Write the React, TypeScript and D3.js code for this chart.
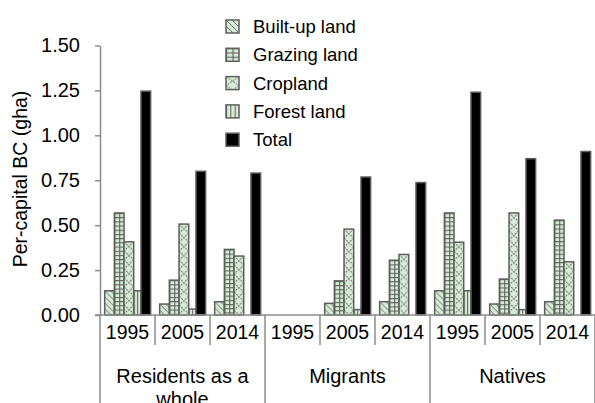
import * as d3 from "d3";
import { useEffect, useRef } from "react";

const groups = ["Residents as a whole", "Migrants", "Natives"];
const years = ["1995", "2005", "2014"];
const seriesNames = ["Built-up land", "Grazing land", "Cropland", "Forest land", "Total"];

// one value per group/year, in order: Residents 1995..2014, Migrants 1995..2014, Natives 1995..2014
const builtUp = [0.135, 0.061, 0.074, 0, 0.065, 0.074, 0.135, 0.061, 0.074];
const grazing = [0.568, 0.194, 0.365, 0, 0.19, 0.305, 0.568, 0.2, 0.528];
const cropland = [0.407, 0.506, 0.328, 0, 0.478, 0.337, 0.405, 0.568, 0.296];
const forest = [0.135, 0.033, 0, 0, 0.03, 0, 0.135, 0.03, 0];
const total = [1.246, 0.8, 0.79, 0, 0.768, 0.737, 1.24, 0.87, 0.91];
const yTicks = [0, 0.25, 0.5, 0.75, 1.0, 1.25, 1.5];

const FONT = "'Liberation Sans', Arial, sans-serif";
const FILL = "#d5edd4";
const EDGE = "#5e5e5e";
const HATCH = "#6e6e6e";
const AXIS = "#8c8c8c";

type Kind = "built" | "grazing" | "crop" | "forest";
const kinds: Kind[] = ["built", "grazing", "crop", "forest"];

function addPattern(defs: any, id: string, kind: Kind, x: number, y: number, w: number) {
  const p = defs
    .append("pattern")
    .attr("id", id)
    .attr("patternUnits", "userSpaceOnUse")
    .attr("x", x)
    .attr("y", y);
  if (kind === "built") {
    const s = 6;
    p.attr("width", s).attr("height", s);
    p.append("rect").attr("width", s).attr("height", s).attr("fill", FILL);
    p.append("path")
      .attr("d", `M0,0L${s},${s}M${-s / 2},${s / 2}L${s / 2},${s * 1.5}M${s / 2},${-s / 2}L${s * 1.5},${s / 2}`)
      .attr("stroke", HATCH)
      .attr("stroke-width", 1);
  } else if (kind === "grazing") {
    const tw = w / 2;
    const th = 4.2;
    p.attr("width", tw).attr("height", th);
    p.append("rect").attr("width", tw).attr("height", th).attr("fill", FILL);
    p.append("path")
      .attr("d", `M0,0.5H${tw}M0.5,0V${th}`)
      .attr("stroke", EDGE)
      .attr("stroke-width", 1.2);
  } else if (kind === "crop") {
    const tw = w;
    const th = 9;
    p.attr("width", tw).attr("height", th);
    p.append("rect").attr("width", tw).attr("height", th).attr("fill", FILL);
    p.append("path")
      .attr("d", `M0,0L${tw},${th}M${tw},0L0,${th}`)
      .attr("stroke", HATCH)
      .attr("stroke-width", 1)
      .attr("stroke-dasharray", "2,1");
  } else {
    const tw = w / 3;
    p.attr("width", tw).attr("height", 4);
    p.append("rect").attr("width", tw).attr("height", 4).attr("fill", FILL);
    p.append("path").attr("d", `M0.5,0V4`).attr("stroke", EDGE).attr("stroke-width", 1);
  }
}

export default function App() {
  const svgRef = useRef(null);
  const width = 595;
  const height = 403;
  const plot = { left: 100, right: 595, top: 45.5, bottom: 315 };

  useEffect(() => {
    const svg = d3.select(svgRef.current);
    svg.selectAll("*").remove();
    svg.attr("width", width).attr("height", height);
    const defs = svg.append("defs");

    const x0 = d3.scaleBand().domain(groups).range([plot.left, plot.right]);
    const x1 = d3.scaleBand().domain(years).range([0, x0.bandwidth()]);
    const y = d3.scaleLinear().domain([0, 1.5]).range([plot.bottom, plot.top]);

    const bw = x1.bandwidth();
    const barW = bw * 0.176;
    const firstOff = bw * 0.085;
    const totalOff = bw * 0.745;

    const land = [builtUp, grazing, cropland, forest];
    const cells = groups.flatMap((g, gi) =>
      years.map((yr, yi) => ({ g, yr, idx: gi * 3 + yi }))
    );

    const bars = svg.append("g");
    cells.forEach((c) => {
      const bx = (x0(c.g) || 0) + (x1(c.yr) || 0);
      land.forEach((arr, si) => {
        const v = arr[c.idx];
        if (!v) return;
        const x = bx + firstOff + si * barW;
        const id = `p-${c.idx}-${si}`;
        addPattern(defs, id, kinds[si], x, y(v), barW);
        bars
          .append("rect")
          .attr("x", x)
          .attr("y", y(v))
          .attr("width", barW)
          .attr("height", y(0) - y(v))
          .attr("fill", `url(#${id})`)
          .attr("stroke", EDGE)
          .attr("stroke-width", 1.5);
      });
      const t = total[c.idx];
      if (t) {
        bars
          .append("rect")
          .attr("x", bx + totalOff)
          .attr("y", y(t))
          .attr("width", barW)
          .attr("height", y(0) - y(t))
          .attr("fill", "#000")
          .attr("stroke", EDGE)
          .attr("stroke-width", 1.5);
      }
    });

    // y axis
    const yAxis = svg
      .append("g")
      .attr("transform", `translate(${plot.left},0)`)
      .call(
        d3
          .axisLeft(y)
          .tickValues(yTicks)
          .tickFormat(d3.format(".2f"))
          .tickSize(5)
          .tickSizeOuter(0)
          .tickPadding(15)
      );
    yAxis.select(".domain").attr("stroke", AXIS).attr("stroke-width", 1.5);
    yAxis.selectAll(".tick line").attr("stroke", AXIS).attr("stroke-width", 1.5);
    yAxis
      .selectAll(".tick text")
      .attr("font-family", FONT)
      .attr("font-size", 20)
      .attr("fill", "#000");

    svg
      .append("text")
      .attr("transform", `translate(27,${(90 + 268) / 2}) rotate(-90)`)
      .attr("text-anchor", "middle")
      .attr("font-family", FONT)
      .attr("font-size", 19.5)
      .attr("fill", "#000")
      .text("Per-capital BC (gha)");

    // x axis: baseline, year dividers and group dividers
    const xa = svg.append("g");
    xa.append("line")
      .attr("x1", plot.left - 5)
      .attr("x2", plot.right)
      .attr("y1", y(0))
      .attr("y2", y(0))
      .attr("stroke", AXIS)
      .attr("stroke-width", 1.5);
    cells.forEach((c) => {
      const bx = (x0(c.g) || 0) + (x1(c.yr) || 0);
      if (c.yr !== years[0]) {
        xa.append("line")
          .attr("x1", bx)
          .attr("x2", bx)
          .attr("y1", y(0))
          .attr("y2", y(0) + 30)
          .attr("stroke", AXIS)
          .attr("stroke-width", 1.5);
      }
      xa.append("text")
        .attr("x", bx + bw / 2)
        .attr("y", 338.5)
        .attr("text-anchor", "middle")
        .attr("font-family", FONT)
        .attr("font-size", 19.5)
        .attr("fill", "#000")
        .text(c.yr);
    });
    [...groups.map((g) => x0(g) || 0), plot.right].forEach((gx) => {
      xa.append("line")
        .attr("x1", gx)
        .attr("x2", gx)
        .attr("y1", y(0))
        .attr("y2", height)
        .attr("stroke", AXIS)
        .attr("stroke-width", 1.5);
    });
    groups.forEach((g) => {
      const words = g.split(" ");
      const lines = g.length > 14 ? [words.slice(0, -1).join(" "), words[words.length - 1]] : [g];
      const t = xa
        .append("text")
        .attr("x", (x0(g) || 0) + x0.bandwidth() / 2)
        .attr("y", 383)
        .attr("text-anchor", "middle")
        .attr("font-family", FONT)
        .attr("font-size", 20)
        .attr("fill", "#000");
      lines.forEach((ln, i) => {
        t.append("tspan")
          .attr("x", (x0(g) || 0) + x0.bandwidth() / 2)
          .attr("dy", i === 0 ? 0 : 23)
          .text(ln);
      });
    });

    // legend
    const lg = svg.append("g");
    seriesNames.forEach((name, i) => {
      const cy = 26.5 + i * 28.3;
      const bx = 226;
      const by = cy - 6.5;
      let fill = "#000";
      if (i < 4) {
        const id = `lg-${i}`;
        addPattern(defs, id, kinds[i], bx, by, 13);
        fill = `url(#${id})`;
      }
      lg.append("rect")
        .attr("x", bx)
        .attr("y", by)
        .attr("width", 13)
        .attr("height", 13)
        .attr("fill", fill)
        .attr("stroke", EDGE)
        .attr("stroke-width", 1.5);
      lg.append("text")
        .attr("x", 253)
        .attr("y", cy)
        .attr("dy", "0.36em")
        .attr("font-family", FONT)
        .attr("font-size", 18.5)
        .attr("fill", "#000")
        .text(name);
    });
  }, []);

  return <svg ref={svgRef} style={{ position: "absolute", left: 0, top: 0, background: "#fff" }}></svg>;
}
